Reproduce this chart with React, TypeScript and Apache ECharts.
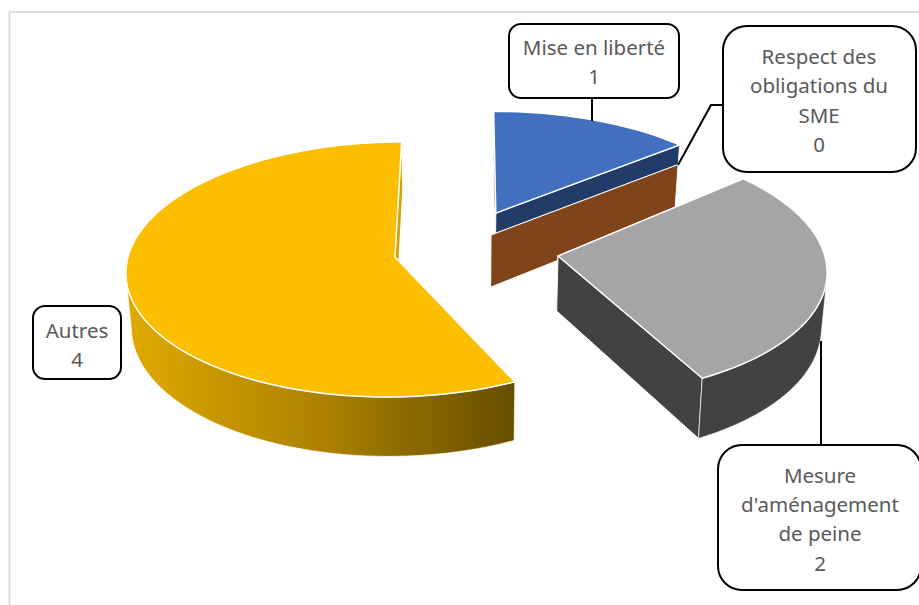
import React, { useEffect, useRef } from "react";
import * as echarts from "echarts";

// ---- data ----
const categories = ["Mise en liberté", "Respect des obligations du SME", "Mesure d'aménagement de peine", "Autres"];
const seriesValues = [1, 0, 2, 4];
const labelLines = [
  ["Mise en liberté"],
  ["Respect des", "obligations du", "SME"],
  ["Mesure", "d'aménagement", "de peine"],
  ["Autres"],
];

// ---- styles ----
const topColors = ["#4070BF", "#7F4419", "#A5A5A5", "#FBBF00"];
const cutColors = ["#223C6A", "#7F4419", "#424242", "#D8A300"];
const arcColors: any[] = [
  "#223C6A",
  "#7F4419",
  "#424242",
  new echarts.graphic.LinearGradient(0, 0, 1, 0, [
    { offset: 0, color: "#E0AA00" },
    { offset: 0.5, color: "#AC8200" },
    { offset: 1, color: "#664D00" },
  ]),
];

// ---- 3D pie layout (perspective projection, explosion of each slice) ----
const VX = 470;
const Y0 = 257;
const RX = 267;
const RY = 126.3;
const K = 0.098;
const depth = [53, 53, 55, 53.5];
const BOTTOM_SHRINK = 0.984;
const offsetX = [0.1, 0.08, 0.33, -0.281];
const offsetY = [-0.36, -0.177, -0.008, 0];
const squash = [0.94, 0.94, 1, 1];
const startTweak = [0, -2, -2, 0];
const endTweak = [-2, -2, -2, 0];

const total = seriesValues.reduce((a, b) => a + b, 0);
const startDeg = seriesValues.map((_, i) =>
  (seriesValues.slice(0, i).reduce((a, b) => a + b, 0) / total) * 360
);

function project(i: number, deg: number, r: number, bottom: boolean): number[] {
  const a = (deg * Math.PI) / 180;
  const X = offsetX[i] + r * Math.sin(a);
  const Y = offsetY[i] - r * Math.cos(a) * squash[i];
  const s = 1 / (1 - K * Y);
  let x = VX + RX * X * s;
  let y = Y0 + RY * Y * s;
  if (bottom) {
    x = VX + (x - VX) * BOTTOM_SHRINK;
    y += depth[i] * s;
  }
  return [x, y];
}

function arcPoints(i: number, from: number, to: number, bottom: boolean): number[][] {
  const n = Math.max(1, Math.ceil(Math.abs(to - from) / 2));
  const pts: number[][] = [];
  for (let k = 0; k <= n; k++) pts.push(project(i, from + ((to - from) * k) / n, 1, bottom));
  return pts;
}

function renderSlice(params: any, api: any) {
  const i = params.dataIndex;
  const sweep = (api.value(0) / total) * 360;
  const from = startDeg[i] + startTweak[i];
  const to = startDeg[i] + sweep + endTweak[i];
  const edge = { stroke: "#ffffff", lineWidth: 1.5 };
  const poly = (points: number[][], fill: any, lw = 1.5) => ({
    type: "polygon",
    silent: true,
    shape: { points },
    style: { fill, ...edge, lineWidth: lw },
  });
  const children: any[] = [];
  [from, to].forEach((d) => {
    children.push(
      poly(
        [project(i, d, 0, false), project(i, d, 1, false), project(i, d, 1, true), project(i, d, 0, true)],
        cutColors[i],
        1
      )
    );
  });
  const af = Math.max(from, 100);
  const at = Math.min(to, 262);
  if (at > af) {
    children.push(poly([...arcPoints(i, af, at, false), ...arcPoints(i, at, af, true)], arcColors[i], 0.6));
  }
  if (sweep > 0) {
    children.push(poly([project(i, from, 0, false), ...arcPoints(i, from, to, false)], topColors[i]));
  }
  return { type: "group", children };
}

// ---- callouts ----
const boxes = [
  { x: 509, y: 24, w: 170, h: 74, r: 12, tx: 594, ty: 32 },
  { x: 723, y: 26, w: 193, h: 146, r: 24, tx: 819, ty: 41.5 },
  { x: 718, y: 445, w: 203, h: 145, r: 24, tx: 820, ty: 460 },
  { x: 33, y: 306, w: 88, h: 73, r: 12, tx: 77, ty: 315.5 },
];
const leaders: number[][][] = [
  [[592, 98], [592, 121]],
  [[723, 105], [711, 105], [678, 165]],
  [[821, 445], [821, 341]],
  [],
];

const FONT = "'Noto Sans', sans-serif";

function calloutGraphics() {
  const out: any[] = [
    { type: "line", silent: true, z: 1, shape: { x1: 9.5, y1: 12, x2: 9.5, y2: 605 }, style: { stroke: "#DEDEDE", lineWidth: 2 } },
    { type: "line", silent: true, z: 1, shape: { x1: 8.5, y1: 12, x2: 919, y2: 12 }, style: { stroke: "#DEDEDE", lineWidth: 2 } },
  ];
  boxes.forEach((b, i) => {
    if (leaders[i].length) {
      out.push({
        type: "polyline",
        silent: true,
        z: 10,
        shape: { points: leaders[i] },
        style: { fill: "none", stroke: "#000000", lineWidth: 2 },
      });
    }
    out.push({
      type: "rect",
      silent: true,
      z: 11,
      shape: { x: b.x, y: b.y, width: b.w, height: b.h, r: b.r },
      style: { fill: "#ffffff", stroke: "#000000", lineWidth: 2 },
    });
    out.push({
      type: "text",
      silent: true,
      z: 12,
      x: b.tx,
      y: b.ty,
      style: {
        text: [...labelLines[i], String(seriesValues[i])].join("\n"),
        fill: "#595959",
        font: `20.5px ${FONT}`,
        lineHeight: 29.3,
        align: "center",
        verticalAlign: "top",
      },
    });
  });
  return out;
}

export default function App() {
  const ref = useRef<HTMLDivElement>(null);
  useEffect(() => {
    const chart = echarts.init(ref.current!, undefined, { renderer: "svg" });
    chart.setOption({
      animation: false,
      backgroundColor: "#ffffff",
      graphic: { elements: calloutGraphics() },
      series: [
        {
          type: "custom",
          coordinateSystem: "none",
          z: 5,
          silent: true,
          clip: false,
          renderItem: renderSlice,
          data: seriesValues.map((v, i) => ({ name: categories[i], value: [v, i] })),
        },
      ],
    });
    return () => chart.dispose();
  }, []);
  return <div ref={ref} style={{ position: "fixed", left: 0, top: 0, width: 919, height: 605 }} />;
}
